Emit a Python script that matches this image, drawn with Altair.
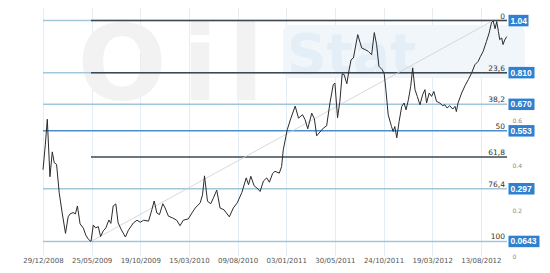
import altair as alt
import pandas as pd

# ---- data ----
days = [0, 7, 13, 21, 28, 34, 41, 49, 58, 68, 76, 82, 91, 98, 104, 112, 122, 129, 137, 145,
        152, 159, 167, 174, 182, 190, 199, 205, 212, 220, 227, 237, 249, 258, 267, 273, 284, 294, 304, 319,
        329, 336, 344, 352, 362, 369, 379, 392, 404, 414, 424, 439, 450, 460, 475, 482, 488, 497, 507, 515,
        525, 535, 547, 563, 575, 587, 601, 614, 621, 628, 638, 646, 656, 666, 676, 684, 694, 701, 714, 721,
        726, 738, 749, 762, 772, 784, 792, 800, 812, 820, 827, 834, 847, 857, 867, 877, 882, 890, 897, 904,
        910, 918, 925, 931, 938, 951, 963, 973, 983, 993, 1001, 1008, 1015, 1025, 1031, 1036, 1043, 1053, 1058, 1063,
        1069, 1076, 1084, 1091, 1097, 1104, 1111, 1117, 1124, 1131, 1139, 1147, 1154, 1159, 1167, 1174, 1181, 1189, 1199, 1207,
        1214, 1221, 1229, 1238, 1245, 1249, 1254, 1265, 1275, 1285, 1295, 1305, 1315, 1322, 1330, 1340, 1348, 1355, 1360, 1366,
        1371, 1376, 1380, 1386, 1390, 1395, 1401]
prices = [0.381, 0.491, 0.604, 0.350, 0.460, 0.412, 0.405, 0.279, 0.190, 0.100, 0.173, 0.186, 0.192, 0.186, 0.221, 0.142, 0.123, 0.093, 0.074, 0.0643,
          0.137, 0.124, 0.130, 0.086, 0.111, 0.124, 0.159, 0.144, 0.221, 0.230, 0.146, 0.115, 0.084, 0.114, 0.133, 0.146, 0.158, 0.149, 0.158, 0.154,
          0.205, 0.243, 0.190, 0.183, 0.231, 0.212, 0.176, 0.168, 0.158, 0.134, 0.158, 0.164, 0.190, 0.212, 0.235, 0.270, 0.354, 0.242, 0.231, 0.257,
          0.291, 0.212, 0.204, 0.173, 0.212, 0.235, 0.281, 0.345, 0.315, 0.352, 0.310, 0.301, 0.285, 0.331, 0.345, 0.326, 0.365, 0.374, 0.366, 0.395,
          0.469, 0.558, 0.609, 0.662, 0.609, 0.624, 0.602, 0.562, 0.631, 0.606, 0.531, 0.543, 0.565, 0.575, 0.676, 0.757, 0.764, 0.611, 0.683, 0.805,
          0.801, 0.761, 0.823, 0.867, 0.875, 0.978, 0.919, 0.912, 0.904, 0.889, 0.987, 0.934, 0.838, 0.823, 0.805, 0.735, 0.624, 0.572, 0.550, 0.572,
          0.522, 0.594, 0.661, 0.676, 0.646, 0.690, 0.749, 0.831, 0.735, 0.705, 0.668, 0.712, 0.735, 0.676, 0.720, 0.705, 0.727, 0.683, 0.676, 0.664,
          0.668, 0.654, 0.664, 0.649, 0.661, 0.638, 0.676, 0.720, 0.752, 0.779, 0.808, 0.845, 0.860, 0.882, 0.904, 0.948, 0.985, 1.030, 1.040, 1.004,
          1.036, 0.992, 0.956, 0.963, 0.934, 0.954, 0.969]

tick_days = [0, 147, 294, 441, 588, 735, 882, 1029, 1176, 1323]
tick_labels = ["29/12/2008", "25/05/2009", "19/10/2009", "15/03/2010", "09/08/2010",
               "03/01/2011", "30/05/2011", "24/10/2011", "19/03/2012", "13/08/2012"]
# 0.8 is hidden under the 0.810 box in the reference
y_ticks = [0, 0.2, 0.4, 0.6, 1]

level_pct = ["0", "23,6", "38,2", "50", "61,8", "76,4", "100"]
level_val = [1.04, 0.810, 0.670, 0.553, 0.437, 0.297, 0.0643]
level_box = ["1.04", "0.810", "0.670", "0.553", "", "0.297", "0.0643"]

blue_val = [1.04, 0.810, 0.670, 0.553, 0.297, 0.0643]
blue_strong = [False, False, False, True, False, False]
dark_val = [1.04, 0.810, 0.437]

trend_days = [145, 1360]
trend_vals = [0.0643, 1.04]
low_day = 145
x_end = 1402

# ---- frames ----
price_df = pd.DataFrame({"day": days, "price": prices})
lvl_df = pd.DataFrame({"v": level_val, "pct": level_pct, "box": level_box})
blue_df = pd.DataFrame({"v": blue_val, "strong": blue_strong})
dark_df = pd.DataFrame({"v": dark_val, "start": [low_day] * len(dark_val), "end": [x_end] * len(dark_val)})
trend_df = pd.DataFrame({"day": trend_days, "price": trend_vals})

W, H = 464, 249
xs = alt.Scale(domain=[0, x_end], nice=False, zero=False)
ys = alt.Scale(domain=[0, 1.1], nice=False, zero=True)

label_expr = "[" + ",".join("'%s'" % t for t in tick_labels) + "][round(datum.value/147)]"

x_axis = alt.Axis(values=tick_days, labelExpr=label_expr, grid=True, gridColor="#e3edf3",
                  domain=False, ticks=False, labelFont="DejaVu Sans", labelFontSize=7,
                  labelColor="#555555", labelPadding=0, labelFlush=False, title=None)
y_axis = alt.Axis(orient="right", values=y_ticks, format="~g", grid=False,
                  domain=False, ticks=False, labelFont="DejaVu Sans", labelFontSize=6,
                  labelColor="#888888", labelPadding=5, labelAlign="left", title=None)

# watermark
wm_rect = alt.Chart(pd.DataFrame({"a": [0]})).mark_rect(color="#f1f6fb", cornerRadius=8).encode(
    x=alt.value(240), x2=alt.value(482), y=alt.value(18), y2=alt.value(71))
wm_stat = alt.Chart(pd.DataFrame({"t": ["Stat"]})).mark_text(
    font="DejaVu Sans", fontWeight="bold", fontSize=55, color="#e4eef7", align="left", baseline="alphabetic"
).encode(x=alt.value(244), y=alt.value(66), text="t:N")
wm_o = alt.Chart(pd.DataFrame({"t": ["O"]})).mark_text(
    font="DejaVu Sans", fontWeight="bold", fontSize=105, color="#f2f2f2", align="center", baseline="alphabetic"
).encode(x=alt.value(79), y=alt.value(93), text="t:N")
wm_i = alt.Chart(pd.DataFrame({"t": ["i"]})).mark_text(
    font="DejaVu Sans", fontWeight="bold", fontSize=105, color="#f2f2f2", align="center", baseline="alphabetic"
).encode(x=alt.value(157), y=alt.value(93), text="t:N")
wm_l = alt.Chart(pd.DataFrame({"t": ["l"]})).mark_text(
    font="DejaVu Sans", fontWeight="bold", fontSize=105, color="#f2f2f2", align="center", baseline="alphabetic"
).encode(x=alt.value(203), y=alt.value(93), text="t:N")

price = alt.Chart(price_df).mark_line(color="#2b2b2b", strokeWidth=1).encode(
    x=alt.X("day:Q", scale=xs, axis=x_axis),
    y=alt.Y("price:Q", scale=ys, axis=y_axis),
)

blue_lines = alt.Chart(blue_df).mark_rule(strokeWidth=1.5).encode(
    x=alt.value(0), x2=alt.value(W),
    y=alt.Y("v:Q", scale=ys, axis=y_axis),
    color=alt.condition("datum.strong", alt.value("#4d8fcc"), alt.value("#a3c5da")),
)

dark_lines = alt.Chart(dark_df).mark_rule(strokeWidth=1.5, color="#3d4852").encode(
    x=alt.X("start:Q", scale=xs, axis=x_axis), x2="end:Q",
    y=alt.Y("v:Q", scale=ys, axis=y_axis),
)

trend = alt.Chart(trend_df).mark_line(color="#cfcfcf", strokeWidth=0.8).encode(
    x=alt.X("day:Q", scale=xs, axis=x_axis), y=alt.Y("price:Q", scale=ys, axis=y_axis))

pct_text = alt.Chart(lvl_df).mark_text(
    align="right", baseline="alphabetic", dy=-2, font="DejaVu Sans", fontSize=7.5, color="#333333"
).encode(x=alt.value(462), y=alt.Y("v:Q", scale=ys, axis=y_axis), text="pct:N")

box_paths = ["M0,-1.15H4V1.15H0Z", "M0,-1.15H5.2V1.15H0Z", "M0,-1.15H6.2V1.15H0Z"]
boxes = alt.Chart(lvl_df).transform_filter("length(datum.box) > 0").transform_calculate(
    n="length(datum.box)"
).mark_point(filled=True, opacity=1, size=100, color="#2f80cf", strokeWidth=0).encode(
    x=alt.value(465.5), y=alt.Y("v:Q", scale=ys, axis=y_axis),
    shape=alt.Shape("n:O", scale=alt.Scale(domain=[4, 5, 6], range=box_paths), legend=None),
)

box_text = alt.Chart(lvl_df).transform_filter("length(datum.box) > 0").mark_text(
    align="left", baseline="middle", font="Liberation Sans", fontWeight="bold", fontSize=8.5, color="white"
).encode(x=alt.value(467.5), y=alt.Y("v:Q", scale=ys, axis=y_axis), text="box:N")

chart = alt.layer(
    wm_rect, wm_stat, wm_o, wm_i, wm_l,
    blue_lines, dark_lines, trend, price, pct_text, boxes, box_text
).properties(
    width=W, height=H,
    autosize=alt.AutoSizeParams(type="none"),
    padding={"left": 43, "top": 7, "right": 43, "bottom": 17},
    background="white",
).configure_view(stroke=None)

chart.save("out.html", embed_options={"renderer": "svg", "actions": False})
